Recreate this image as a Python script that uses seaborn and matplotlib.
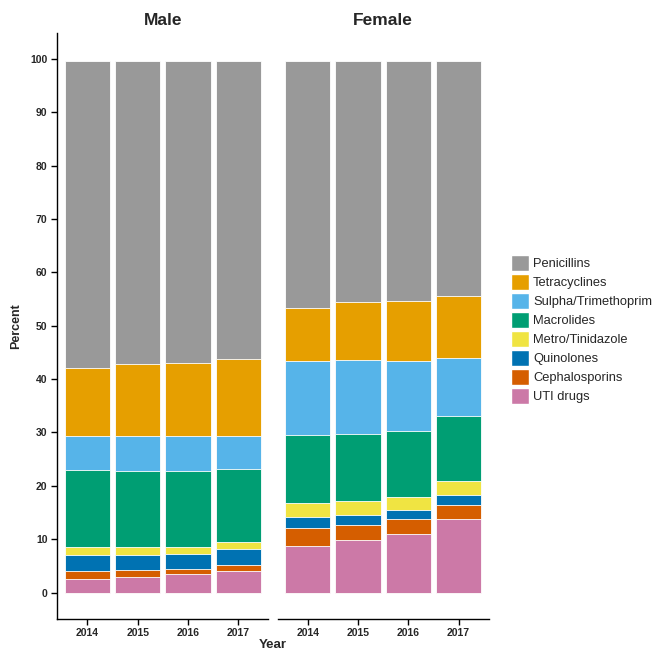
import pandas as pd
import matplotlib.pyplot as plt
import matplotlib.patches as mpatches
import seaborn as sns

years = ['2014', '2015', '2016', '2017']
drugs = ['Penicillins', 'Tetracyclines', 'Sulpha/Trimethoprim', 'Macrolides',
         'Metro/Tinidazole', 'Quinolones', 'Cephalosporins', 'UTI drugs']
colors = ['#999999', '#E69F00', '#56B4E9', '#009E73',
          '#F0E442', '#0072B2', '#D55E00', '#CC79A7']

# percent share per year (2014..2017)
male = {
    'Penicillins':         [57.6, 56.7, 56.5, 55.9],
    'Tetracyclines':       [12.7, 13.5, 13.8, 14.4],
    'Sulpha/Trimethoprim': [6.3, 6.7, 6.6, 6.2],
    'Macrolides':          [14.5, 14.1, 14.1, 13.6],
    'Metro/Tinidazole':    [1.4, 1.5, 1.3, 1.4],
    'Quinolones':          [3.1, 2.8, 2.8, 2.9],
    'Cephalosporins':      [1.4, 1.3, 1.1, 1.1],
    'UTI drugs':           [2.6, 3.0, 3.4, 4.1],
}
female = {
    'Penicillins':         [46.2, 45.1, 45.0, 44.1],
    'Tetracyclines':       [10.1, 10.9, 11.2, 11.5],
    'Sulpha/Trimethoprim': [13.7, 13.8, 13.1, 10.9],
    'Macrolides':          [12.8, 12.6, 12.4, 12.2],
    'Metro/Tinidazole':    [2.7, 2.6, 2.4, 2.6],
    'Quinolones':          [2.0, 1.9, 1.7, 1.8],
    'Cephalosporins':      [3.3, 2.9, 2.9, 2.8],
    'UTI drugs':           [8.8, 9.8, 10.9, 13.7],
}

rows = []
for sex, d in [('Male', male), ('Female', female)]:
    for drug in drugs:
        for yr, v in zip(years, d[drug]):
            rows.append({'sex': sex, 'year': yr, 'drug': drug, 'pct': v})
data = pd.DataFrame(rows)

sns.set_theme(style='white')
plt.rcParams['font.family'] = ['Liberation Sans', 'DejaVu Sans']

fig, axes = plt.subplots(1, 2, figsize=(6.57, 6.52), dpi=100, sharey=True)
fig.subplots_adjust(left=0.087, right=0.744, bottom=0.051, top=0.949, wspace=0.043)

for ax, sex in zip(axes, ['Male', 'Female']):
    sub = data[data['sex'] == sex]
    wide = sub.pivot(index='year', columns='drug', values='pct').loc[years]
    # stack from the bottom (UTI drugs) up, then draw tallest first
    cum = wide[drugs[::-1]].cumsum(axis=1)
    for drug, col in zip(drugs, colors):
        layer = cum[drug].reset_index()
        sns.barplot(data=layer, x='year', y=drug, order=years, color=col,
                    width=0.9, edgecolor='white', linewidth=0.6,
                    saturation=1, ax=ax)
    ax.set_title(sex, fontsize=12.5, fontweight='bold', pad=6)
    ax.set_xlabel('')
    ax.set_ylabel('')
    ax.set_xlim(-0.6, 3.6)
    ax.set_ylim(-4.9, 104.8)
    ax.set_yticks(range(0, 101, 10))
    for lab in ax.get_xticklabels() + ax.get_yticklabels():
        lab.set_fontweight('bold')
        lab.set_fontsize(7.5)
    ax.tick_params(axis='both', which='both', length=4, width=1, color='black',
                   bottom=True, left=(sex == 'Male'), pad=3)
    for s in ['top', 'right']:
        ax.spines[s].set_visible(False)
    ax.spines['bottom'].set_color('black')
    ax.spines['bottom'].set_linewidth(1)
    if sex == 'Male':
        ax.spines['left'].set_color('black')
        ax.spines['left'].set_linewidth(1)
    else:
        ax.spines['left'].set_visible(False)
        ax.tick_params(axis='y', left=False, labelleft=False)

axes[0].set_ylabel('Percent', fontsize=9, fontweight='bold', labelpad=6)
fig.text(273 / 657, 1 / 652, 'Year', ha='center', va='bottom',
         fontsize=9.5, fontweight='bold')

handles = [mpatches.Patch(facecolor=c, edgecolor='white', label=d)
           for d, c in zip(drugs, colors)]
fig.legend(handles=handles, loc='upper left', bbox_to_anchor=(506 / 657, 1 - 250 / 652),
           frameon=False, fontsize=9.3, handlelength=1.4, handleheight=1.5,
           labelspacing=0.25, handletextpad=0.3, borderaxespad=0)

plt.savefig('out.png', dpi=100)
